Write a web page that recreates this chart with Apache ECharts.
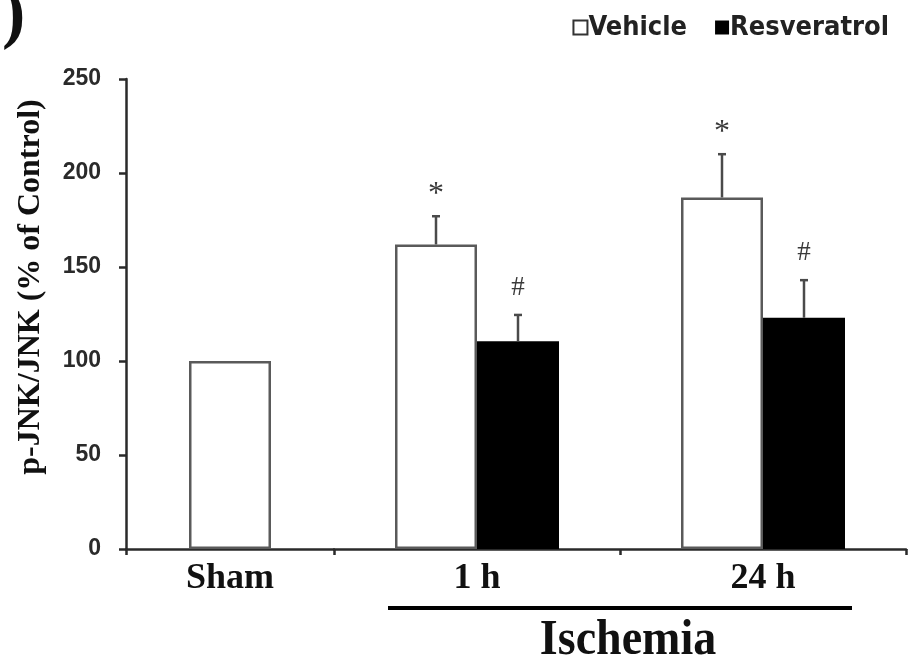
<!DOCTYPE html>
<html>
<head>
<meta charset="utf-8">
<script src="https://cdn.jsdelivr.net/npm/echarts@6/dist/echarts.min.js"></script>
<style>
html,body{margin:0;padding:0;background:#fff;}
#chart{width:908px;height:671px;}
</style>
</head>
<body>
<div id="chart"></div>
<script>
// ---- data ----
const categories = ['Sham', '1 h', '24 h'];
const vehicle = [100, 162, 187];
const vehicleErr = [0, 15, 23];
const resveratrol = [null, 110.5, 123];
const resveratrolErr = [null, 14, 20];
const vehicleMarks = ['', '*', '*'];
const resveratrolMarks = ['', '#', '#'];
const yTicks = [0, 50, 100, 150, 200, 250];
const groupLabel = 'Ischemia';
const yTitle = 'p-JNK/JNK (% of Control)';

// ---- chart ----
const chart = echarts.init(document.getElementById('chart'), null, {renderer: 'canvas'});
const BAR_W = 82;
const AXIS_COLOR = '#2a2a2a';
const VEH_BORDER = '#5a5a5a';
const ERR_COLOR = '#4a4a4a';
const SERIF = 'Liberation Serif, Times New Roman, serif';

const shamCats = categories.slice(0, 1);
const ischCats = categories.slice(1);

function errSeries(name, grid, values, errs, marks, offset, markSize, markGap) {
  const data = [];
  values.forEach((v, i) => {
    if (v == null) return;
    if (grid === 0 && i > 0) return;
    if (grid === 1 && i === 0) return;
    data.push([grid === 0 ? i : i - 1, v, errs[i] || 0, i]);
  });
  return {
    type: 'custom', name: name + ' err', xAxisIndex: grid, yAxisIndex: grid, z: 5,
    silent: true,
    data: data,
    renderItem: function (params, api) {
      const c = api.value(0), v = api.value(1), e = api.value(2), idx = api.value(3);
      const base = api.coord([c, v]);
      const top = api.coord([c, v + e]);
      const x = base[0] + offset;
      const children = [];
      if (e > 0) {
        children.push({type: 'line', shape: {x1: x, y1: base[1], x2: x, y2: top[1]}, style: {stroke: ERR_COLOR, lineWidth: 2.5}});
        children.push({type: 'line', shape: {x1: x - 4, y1: top[1], x2: x + 4, y2: top[1]}, style: {stroke: ERR_COLOR, lineWidth: 2.5}});
      }
      const m = marks[idx];
      if (m) {
        children.push({type: 'text', style: {text: m, x: x, y: top[1] - markGap, textAlign: 'center', textVerticalAlign: 'bottom',
          font: markSize + 'px ' + SERIF, fill: '#3a3a3a'}});
      }
      return {type: 'group', children: children};
    }
  };
}

const yAxisCommon = {
  type: 'value', min: yTicks[0], max: yTicks[yTicks.length - 1], interval: yTicks[1] - yTicks[0],
  splitLine: {show: false}
};

const xLabel = {fontFamily: SERIF, fontWeight: 'bold', fontSize: 36, color: '#111', margin: 12};

const option = {
  backgroundColor: '#ffffff',
  animation: false,
  legend: {
    data: [
      {name: 'Vehicle', itemStyle: {color: '#fff', borderColor: '#333', borderWidth: 2}},
      {name: 'Resveratrol', itemStyle: {color: '#000'}}
    ],
    right: 14, top: 9, itemWidth: 14, itemHeight: 14, itemGap: 28,
    icon: 'rect',
    textStyle: {fontFamily: 'Liberation Sans Narrow, DejaVu Sans Condensed, Liberation Sans, Arial', fontWeight: 'bold', fontSize: 27, color: '#222', padding: [0, 0, 0, -4]}
  },
  grid: [
    {left: 126, right: 908 - 334, top: 79, bottom: 671 - 549, containLabel: false},
    {left: 334, right: 2, top: 79, bottom: 671 - 549, containLabel: false}
  ],
  xAxis: [
    {type: 'category', gridIndex: 0, data: shamCats,
     axisLine: {lineStyle: {color: AXIS_COLOR, width: 2.5}},
     axisTick: {show: true, length: 6, inside: false, lineStyle: {color: AXIS_COLOR, width: 2.5}},
     axisLabel: xLabel},
    {type: 'category', gridIndex: 1, data: ischCats,
     axisLine: {lineStyle: {color: AXIS_COLOR, width: 2.5}},
     axisTick: {show: true, length: 6, inside: false, lineStyle: {color: AXIS_COLOR, width: 2.5}},
     axisLabel: xLabel}
  ],
  yAxis: [
    Object.assign({}, yAxisCommon, {gridIndex: 0,
      axisLine: {show: true, lineStyle: {color: AXIS_COLOR, width: 2.5}},
      axisTick: {show: true, length: 7, lineStyle: {color: AXIS_COLOR, width: 2.5}},
      axisLabel: {fontFamily: 'Liberation Sans, Arial, sans-serif', fontWeight: 'bold', fontSize: 23, color: '#2a2a2a', margin: 25}}),
    Object.assign({}, yAxisCommon, {gridIndex: 1, show: false})
  ],
  series: [
    {name: 'Vehicle', type: 'bar', xAxisIndex: 0, yAxisIndex: 0, barWidth: BAR_W,
     data: vehicle.slice(0, 1),
     itemStyle: {color: '#fff', borderColor: VEH_BORDER, borderWidth: 2.5}},
    {name: 'Vehicle', type: 'bar', xAxisIndex: 1, yAxisIndex: 1, barWidth: BAR_W, barGap: '0%',
     data: vehicle.slice(1),
     itemStyle: {color: '#fff', borderColor: VEH_BORDER, borderWidth: 2.5}},
    {name: 'Resveratrol', type: 'bar', xAxisIndex: 1, yAxisIndex: 1, barWidth: BAR_W, barGap: '0%',
     data: resveratrol.slice(1),
     itemStyle: {color: '#000', borderColor: '#000', borderWidth: 0}},
    errSeries('Vehicle', 0, vehicle, vehicleErr, vehicleMarks, 0, 32, 6),
    errSeries('Vehicle', 1, vehicle, vehicleErr, vehicleMarks, -BAR_W / 2, 32, 6),
    errSeries('Resveratrol', 1, resveratrol, resveratrolErr, resveratrolMarks, BAR_W / 2, 27, 14)
  ],
  graphic: [
    {type: 'text', left: 2, top: -18, style: {text: ')', font: 'bold 70px Liberation Serif, serif', fill: '#111'}},
    {type: 'text', x: 31, y: 287, rotation: Math.PI / 2,
     style: {text: yTitle, textAlign: 'center', textVerticalAlign: 'middle', font: 'bold 32px ' + SERIF, fill: '#111'}},
    {type: 'line', shape: {x1: 388, y1: 608, x2: 852, y2: 608}, style: {stroke: '#000', lineWidth: 4}},
    {type: 'text', x: 628, y: 641, scaleY: 1.1,
     style: {text: groupLabel, textAlign: 'center', textVerticalAlign: 'middle', font: 'bold 46px ' + SERIF, fill: '#111'}}
  ]
};
chart.setOption(option);
</script>
</body>
</html>
